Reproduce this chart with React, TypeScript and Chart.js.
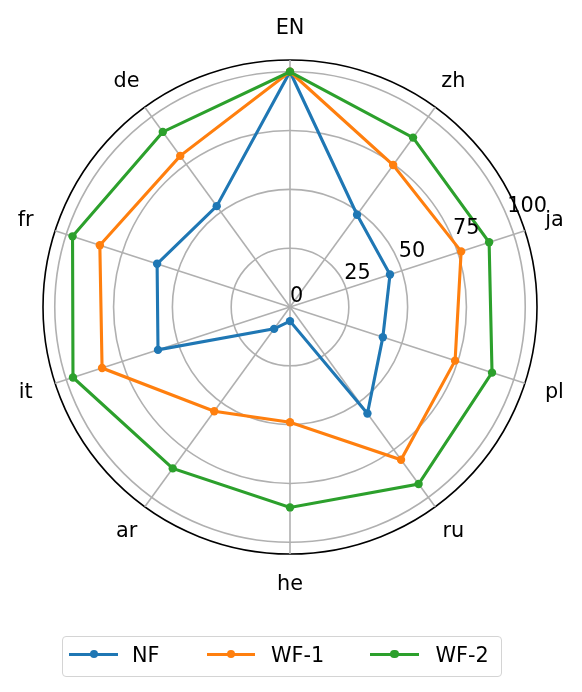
import React, { useEffect, useRef } from "react";
import { Chart, registerables } from "chart.js";

Chart.register(...registerables);

const CATEGORIES = ["EN", "zh", "ja", "pl", "ru", "he", "ar", "it", "fr", "de"];
const NF = [100, 48.5, 44.7, 41.5, 56, 6, 11.5, 59, 59.4, 53];
const WF1 = [100, 74.6, 76.5, 73.8, 80.3, 49, 54.8, 84, 85, 79.4];
const WF2 = [100, 89, 89, 90.3, 93, 85.2, 84.8, 97, 97.2, 92];
const SERIES_NAMES = ["NF", "WF-1", "WF-2"];
const COLORS = ["#1f77b4", "#ff7f0e", "#2ca02c"];
const TICK_VALUES = [0, 25, 50, 75, 100];
const R_MAX = 105;

const FONT_FAMILY = '"DejaVu Sans", "Liberation Sans", sans-serif';
const FONT_PX = 20.8;
const FONT = `${FONT_PX}px ${FONT_FAMILY}`;
const RLABEL_ANGLE = 22.5;
const LABEL_RADIUS = 278;
const LABEL_BASELINE_SHIFT = 5.4;

const labelPlugin = {
  id: "mplLabels",
  afterDatasetsDraw(chart: any) {
    const scale = chart.scales.r;
    const ctx = chart.ctx;
    ctx.save();
    ctx.font = FONT;
    ctx.fillStyle = "#000";
    ctx.textAlign = "left";
    ctx.textBaseline = "alphabetic";
    const a = (RLABEL_ANGLE * Math.PI) / 180;
    for (const t of TICK_VALUES) {
      const d = scale.getDistanceFromCenterForValue(t);
      const x = scale.xCenter + d * Math.cos(a);
      const y = scale.yCenter - d * Math.sin(a);
      ctx.fillText(String(t), x, y - 5);
    }
    ctx.textAlign = "center";
    CATEGORIES.forEach((c, i) => {
      const p = scale.getPointPosition(i, LABEL_RADIUS);
      ctx.fillText(c, p.x, p.y + LABEL_BASELINE_SHIFT);
    });
    ctx.restore();
  },
};

const LEGEND_ITEMS = [
  { lineX: 69.3, lineW: 49, textX: 132 },
  { lineX: 206.7, lineW: 48.5, textX: 271 },
  { lineX: 370, lineW: 49, textX: 435.5 },
];

export default function App() {
  const canvasRef = useRef<HTMLCanvasElement | null>(null);

  useEffect(() => {
    const canvas = canvasRef.current;
    if (!canvas) return;
    const seriesData = [NF, WF1, WF2];
    const chart = new Chart(canvas, {
      type: "radar",
      data: {
        labels: CATEGORIES,
        datasets: seriesData.map((d, i) => ({
          label: SERIES_NAMES[i],
          data: d,
          borderColor: COLORS[i],
          backgroundColor: COLORS[i],
          pointBackgroundColor: COLORS[i],
          pointBorderColor: COLORS[i],
          pointBorderWidth: 0,
          pointRadius: 4.2,
          borderWidth: 3.1,
          fill: false,
          tension: 0,
          order: 3 - i,
        })),
      },
      options: {
        responsive: false,
        animation: false,
        layout: { padding: { left: 43, right: 44, top: 60, bottom: 137 } },
        plugins: {
          legend: { display: false },
          tooltip: { enabled: false },
        },
        scales: {
          r: {
            min: 0,
            max: R_MAX,
            afterBuildTicks: (s: any) => {
              s.ticks = [...TICK_VALUES, R_MAX].map((v) => ({ value: v }));
            },
            ticks: { display: false },
            grid: {
              circular: true,
              color: (c: any) =>
                c.tick && c.tick.value === R_MAX ? "#000000" : "#b0b0b0",
              lineWidth: 1.6,
            },
            angleLines: { display: true, color: "#b0b0b0", lineWidth: 1.6 },
            pointLabels: { display: false },
          },
        },
      },
      plugins: [labelPlugin],
    } as any);
    return () => chart.destroy();
  }, []);

  return (
    <div
      style={{
        position: "fixed",
        left: 0,
        top: 0,
        width: 582,
        height: 692,
        background: "#ffffff",
        overflow: "hidden",
      }}
    >
      <canvas
        ref={canvasRef}
        width={582}
        height={692}
        style={{ position: "absolute", left: 0, top: 0, width: 582, height: 692 }}
      />
      <div
        style={{
          position: "absolute",
          left: 62,
          top: 635.5,
          width: 440,
          height: 41,
          boxSizing: "border-box",
          border: "1.6px solid #d4d4d4",
          borderRadius: 4,
          background: "rgba(255,255,255,0.8)",
        }}
      />
      {LEGEND_ITEMS.map((it, i) => (
        <React.Fragment key={SERIES_NAMES[i]}>
          <div
            style={{
              position: "absolute",
              left: it.lineX,
              top: 654.3 - 1.55,
              width: it.lineW,
              height: 3.1,
              background: COLORS[i],
            }}
          />
          <div
            style={{
              position: "absolute",
              left: it.lineX + it.lineW / 2 - 4.2,
              top: 654.3 - 4.2,
              width: 8.4,
              height: 8.4,
              borderRadius: "50%",
              background: COLORS[i],
            }}
          />
          <span
            style={{
              position: "absolute",
              left: it.textX,
              top: 662 - 0.928 * FONT_PX,
              fontFamily: FONT_FAMILY,
              fontSize: FONT_PX,
              lineHeight: `${1.164 * FONT_PX}px`,
              color: "#000",
              whiteSpace: "nowrap",
            }}
          >
            {SERIES_NAMES[i]}
          </span>
        </React.Fragment>
      ))}
    </div>
  );
}
